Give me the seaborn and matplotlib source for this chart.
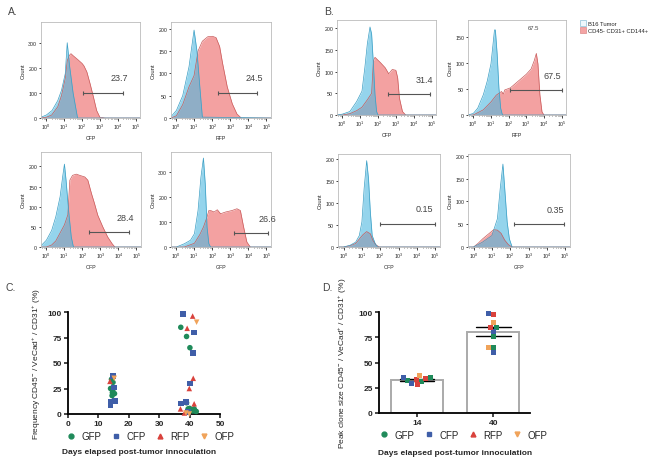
import numpy as np
import pandas as pd
import matplotlib
matplotlib.use("Agg")
import matplotlib.pyplot as plt
from matplotlib.lines import Line2D
from matplotlib.patches import Patch
import seaborn as sns

sns.set_style("white")
plt.rcParams['font.family'] = ['Liberation Sans', 'DejaVu Sans']
plt.rcParams['mathtext.fontset'] = 'custom'
plt.rcParams['mathtext.rm'] = 'Liberation Sans'
plt.rcParams['mathtext.it'] = 'Liberation Sans:italic'
plt.rcParams['mathtext.bf'] = 'Liberation Sans:bold'

# ---------------- Histogram data (x in log10 decades, y = counts) ----------------
a1_bx = [-0.3, 0, 0.32, 0.64, 0.85, 1.06, 1.17, 1.3, 1.5, 1.75, 5.25]
a1_by = [3, 12, 30, 70, 111, 178, 302, 210, 100, 0, 0]
a1_rx = [-0.3, 0, 0.3, 0.64, 0.85, 1.06, 1.17, 1.3, 1.38, 1.5, 1.75, 2.0, 2.1, 2.27, 2.45, 2.64, 2.82, 3.0, 3.3, 5.25]
a1_ry = [0, 3, 12, 45, 90, 160, 230, 252, 258, 250, 235, 219, 210, 185, 138, 84, 30, 3, 0, 0]

a2_bx = [-0.3, 0, 0.35, 0.7, 0.98, 1.14, 1.3, 1.44, 5.25]
a2_by = [3, 17, 50, 115, 197, 150, 70, 2, 0]
a2_rx = [-0.3, 0, 0.35, 0.7, 0.98, 1.2, 1.44, 1.74, 2.0, 2.2, 2.4, 2.56, 2.82, 3.1, 3.36, 3.6, 5.25]
a2_ry = [0, 5, 30, 70, 95, 150, 172, 182, 183, 180, 160, 123, 70, 32, 9, 0, 0]

b1_bx = [-0.3, 0, 0.42, 0.8, 1.1, 1.26, 1.4, 1.55, 1.64, 1.74, 1.83, 1.92, 2.0, 5.25]
b1_by = [0, 2, 8, 31, 55, 109, 164, 203, 187, 117, 47, 8, 0, 0]
b1_rx = [-0.3, 0, 0.42, 0.8, 1.1, 1.4, 1.64, 1.74, 1.83, 2.13, 2.4, 2.6, 2.8, 3.0, 3.1, 3.2, 3.37, 3.55, 5.25]
b1_ry = [0, 0, 3, 10, 18, 35, 50, 125, 133, 121, 109, 95, 105, 103, 86, 39, 8, 0, 0]

b2_bx = [-0.3, 0, 0.25, 0.57, 0.79, 1.0, 1.1, 1.2, 1.25, 1.35, 1.45, 1.55, 1.65, 5.25]
b2_by = [0, 3, 13, 39, 65, 98, 130, 163, 163, 117, 52, 13, 0, 0]
b2_rx = [-0.3, 0, 0.57, 1.0, 1.3, 1.6, 1.7, 1.78, 2.1, 2.55, 3.0, 3.27, 3.45, 3.57, 3.66, 3.77, 3.89, 4.0, 5.25]
b2_ry = [0, 0, 10, 25, 38, 45, 40, 48, 52, 65, 78, 88, 104, 118, 98, 39, 6, 0, 0]

a3_bx = [-0.3, 0, 0.29, 0.52, 0.76, 0.9, 1.0, 1.09, 1.23, 1.38, 1.5, 5.25]
a3_by = [3, 17, 41, 75, 125, 174, 206, 166, 91, 25, 0, 0]
a3_rx = [-0.3, 0, 0.29, 0.52, 0.76, 1.0, 1.19, 1.3, 1.45, 1.66, 1.85, 2.13, 2.3, 2.5, 2.67, 2.85, 3.13, 3.4, 3.65, 3.8, 5.25]
a3_ry = [0, 0, 5, 15, 35, 55, 80, 166, 178, 181, 178, 174, 166, 133, 108, 79, 50, 25, 8, 0, 0]

a4_bx = [-0.3, 0, 0.44, 0.78, 1.0, 1.2, 1.36, 1.5, 1.6, 1.7, 1.8, 1.9, 5.25]
a4_by = [0, 0, 13, 27, 53, 146, 279, 356, 253, 80, 13, 0, 0]
a4_rx = [-0.3, 0.44, 1.0, 1.3, 1.5, 1.7, 1.8, 1.9, 2.09, 2.27, 2.45, 2.73, 3.09, 3.36, 3.55, 3.73, 3.91, 4.1, 5.25]
a4_ry = [0, 0, 15, 50, 80, 120, 146, 146, 140, 149, 133, 140, 146, 153, 146, 80, 20, 0, 0]

b3_bx = [-0.3, 0, 0.36, 0.66, 0.86, 1.0, 1.12, 1.26, 1.36, 1.46, 1.56, 1.72, 1.85, 5.25]
b3_by = [0, 0, 4, 11, 26, 57, 132, 196, 155, 79, 26, 8, 0, 0]
b3_rx = [-0.3, 0, 0.36, 0.66, 0.86, 1.06, 1.26, 1.46, 1.6, 1.76, 1.95, 5.25]
b3_ry = [0, 0, 3, 8, 18, 28, 35, 30, 15, 5, 0, 0]

b4_bx = [-0.3, 0, 0.5, 1.0, 1.3, 1.45, 1.6, 1.7, 1.83, 1.95, 2.1, 5.25]
b4_by = [0, 0, 11, 25, 62, 127, 182, 127, 55, 18, 0, 0]
b4_rx = [-0.3, 0, 0.25, 0.5, 0.86, 1.1, 1.3, 1.5, 1.7, 1.9, 2.1, 5.25]
b4_ry = [0, 0, 8, 18, 30, 38, 37, 30, 15, 5, 0, 0]

hist_channels = ["CFP", "RFP", "CFP", "RFP", "OFP", "GFP", "OFP", "GFP"]
hist_gate_pct = ["23.7", "24.5", "31.4", "67.5", "28.4", "26.6", "0.15", "0.35"]
hist_gates = [(2.05, 4.3), (2.3, 4.5), (2.55, 4.9), (2.1, 5.0), (2.37, 4.6), (3.18, 5.08), (2.0, 4.96), (2.2, 4.95)]
hist_gate_y = [101, 56, 48, 47, 37, 56, 53, 51]
hist_ymax = [385, 215, 219, 182, 236, 380, 211, 204]
hist_yticks = [[0, 100, 200, 300], [0, 50, 100, 150, 200], [0, 50, 100, 150, 200], [0, 50, 100, 150],
               [0, 50, 100, 150, 200], [0, 100, 200, 300], [0, 50, 100, 150, 200], [0, 50, 100, 150, 200]]
legend_labels_top = ["B16 Tumor", "CD45- CD31+ CD144+"]

# ---------------- Panel C data ----------------
c_gfp_day = [14.3, 14.0, 14.6, 15.0, 15.3, 14.8, 14.5, 37.1, 39.0, 40.1, 39.0, 39.5, 40.5, 41.0, 41.5, 42.2, 40.0, 41.8]
c_gfp_val = [34, 25, 21, 25, 20, 31, 18, 85, 76, 65, 11, 5, 4, 3, 5, 2.5, 5.5, 3]
c_cfp_day = [14.0, 14.0, 15.5, 14.8, 15.2, 37.9, 41.5, 41.1, 40.1, 38.8, 37.1, 39.5]
c_cfp_val = [11.5, 9, 13, 37, 26, 98, 80, 60, 30, 12, 10.5, 2]
c_rfp_day = [13.8, 39.2, 41.0, 41.2, 39.9, 41.5, 37.0, 38.3]
c_rfp_val = [32, 84, 96, 35, 25, 10, 5, 1]
c_ofp_day = [15.2, 42.3, 38.8, 39.9]
c_ofp_val = [35, 90, 1, 0]

# ---------------- Panel D data ----------------
d_days = ["14", "40"]
d_gfp = {"14": [35, 32, 31], "40": [85, 76, 65]}
d_cfp = {"14": [35, 29], "40": [99, 81, 60]}
d_rfp = {"14": [34, 33, 28], "40": [98, 85]}
d_ofp = {"14": [37], "40": [90, 65]}

fluors = ["GFP", "CFP", "RFP", "OFP"]
fl_colors = {"GFP": "#1f8a5a", "CFP": "#3f5ea8", "RFP": "#d9423c", "OFP": "#f0a35a"}
fl_markers = {"GFP": "o", "CFP": "s", "RFP": "^", "OFP": "v"}

BLUE = "#4db8e0"
RED = "#ee7a7a"

fig = plt.figure(figsize=(6.5, 4.6), dpi=100)


def rect(l, t, r, b):
    return [l / 650, 1 - b / 460, (r - l) / 650, (b - t) / 460]


hist_rects = [rect(41, 23, 140, 119), rect(171, 23, 271, 119), rect(337, 21, 436, 116), rect(468, 21, 566, 116),
              rect(41, 153, 141, 248), rect(171, 153, 271, 248), rect(338, 155, 440, 248), rect(468, 155, 570, 248)]
hist_data = [(a1_bx, a1_by, a1_rx, a1_ry), (a2_bx, a2_by, a2_rx, a2_ry), (b1_bx, b1_by, b1_rx, b1_ry),
             (b2_bx, b2_by, b2_rx, b2_ry), (a3_bx, a3_by, a3_rx, a3_ry), (a4_bx, a4_by, a4_rx, a4_ry),
             (b3_bx, b3_by, b3_rx, b3_ry), (b4_bx, b4_by, b4_rx, b4_ry)]

for i, r in enumerate(hist_rects):
    ax = fig.add_axes(r)
    bx, by, rx, ry = hist_data[i]
    rxx = 10 ** np.array(rx, dtype=float)
    bxx = 10 ** np.array(bx, dtype=float)
    ax.fill_between(rxx, ry, color=RED, alpha=0.7, linewidth=0)
    ax.plot(rxx, ry, color="#c85a5a", linewidth=0.5)
    ax.fill_between(bxx, by, color=BLUE, alpha=0.6, linewidth=0)
    ax.plot(bxx, by, color="#3a9ec4", linewidth=0.5)
    ax.set_xscale("log")
    ax.set_xlim(10 ** -0.3, 10 ** 5.25)
    ax.set_ylim(0, hist_ymax[i])
    ax.set_xticks([10 ** k for k in range(6)])
    ax.set_yticks(hist_yticks[i])
    ax.tick_params(axis="both", labelsize=3.8, length=1.8, width=0.6, pad=1, direction="out",
                   bottom=True, left=True)
    ax.tick_params(axis="x", which="minor", length=1.0, width=0.4, bottom=True)
    for s in ax.spines.values():
        s.set_color("#bbbbbb")
        s.set_linewidth(0.6)
    ax.set_xlabel(hist_channels[i], fontsize=3.8, labelpad=2.5)
    ax.set_ylabel("Count", fontsize=4.2, labelpad=2)
    g0, g1 = hist_gates[i]
    gy = hist_gate_y[i]
    ax.plot([10 ** g0, 10 ** g1], [gy, gy], color="#555555", linewidth=0.8)
    ax.plot([10 ** g0, 10 ** g1], [gy, gy], linestyle="none", marker="|", markersize=3,
            markeredgewidth=0.8, color="#555555")
    ax.text(10 ** ((g0 + g1) / 2 + 0.9), gy + hist_ymax[i] * 0.11, hist_gate_pct[i], fontsize=6.5,
            color="#444444", ha="center", va="bottom")
    if i == 3:
        ax.text(10 ** 3.4, hist_ymax[i] * 0.92, hist_gate_pct[i], fontsize=4.2, color="#444444",
                ha="center", va="center")

# top-right legend
leg_handles = [Patch(facecolor="#eef8fc", edgecolor="#8cbfd6", linewidth=0.5),
               Patch(facecolor="#f4a4a4", edgecolor="#d88", linewidth=0.5)]
fig.legend(leg_handles, legend_labels_top, loc="upper left", bbox_to_anchor=(576 / 650, 1 - 17 / 460),
           frameon=False, fontsize=4.2, handlelength=1.0, handleheight=1.2, labelspacing=0.2,
           handletextpad=0.4, borderpad=0.2)

# panel letters
for txt, x, y in [("A.", 8, 12), ("B.", 324, 12), ("C.", 5, 288), ("D.", 322, 288)]:
    fig.text(x / 650, 1 - y / 460, txt, fontsize=7.5, color="#444444", va="center", ha="left")

# ---------------- Panel C ----------------
axC = fig.add_axes(rect(68, 313, 220, 415))
c_series = {"GFP": (c_gfp_day, c_gfp_val), "CFP": (c_cfp_day, c_cfp_val),
            "RFP": (c_rfp_day, c_rfp_val), "OFP": (c_ofp_day, c_ofp_val)}
rows = []
for f in fluors:
    for d, v in zip(*c_series[f]):
        rows.append({"day": d, "value": v, "fluor": f})
dfC = pd.DataFrame(rows)
sns.scatterplot(data=dfC, x="day", y="value", hue="fluor", style="fluor", hue_order=fluors,
                style_order=fluors, palette=fl_colors, markers=fl_markers, s=16, linewidth=0,
                ax=axC, legend=False, clip_on=False, zorder=3)
axC.set_xlim(0, 50)
axC.set_ylim(0, 100)
axC.set_xticks([0, 10, 20, 30, 40, 50])
axC.set_yticks([0, 25, 50, 75, 100])
sns.despine(ax=axC)

# ---------------- Panel D ----------------
axD = fig.add_axes(rect(379, 313, 530, 414))
d_series = {"GFP": d_gfp, "CFP": d_cfp, "RFP": d_rfp, "OFP": d_ofp}
rows = []
for f in fluors:
    for d in d_days:
        for v in d_series[f][d]:
            rows.append({"day": d, "value": v, "fluor": f})
dfD = pd.DataFrame(rows)
sns.barplot(data=dfD, x="day", y="value", order=d_days, errorbar="se", capsize=0.45, color="white",
            edgecolor="#aaaaaa", linewidth=1.4, width=0.68, err_kws={"color": "black", "linewidth": 1.0},
            ax=axD, zorder=1)
sns.swarmplot(data=dfD, x="day", y="value", order=d_days, hue="fluor", hue_order=fluors, palette=fl_colors,
              marker="s", size=3.6, linewidth=0, ax=axD, legend=False, zorder=3)
for coll in axD.collections:
    coll.set_clip_on(False)
axD.set_xlim(-0.5, 1.48)
axD.set_ylim(0, 100)
axD.set_yticks([0, 25, 50, 75, 100])
axD.set_xlabel("")
sns.despine(ax=axD)

for ax in (axC, axD):
    for s in ("left", "bottom"):
        ax.spines[s].set_linewidth(1.3)
        ax.spines[s].set_color("black")
    ax.tick_params(axis="both", labelsize=6, length=3, width=1.2, direction="out", pad=1.5,
                   bottom=True, left=True)
    for lab in ax.get_xticklabels() + ax.get_yticklabels():
        lab.set_fontweight("bold")
    ax.set_xlabel("")

axC.set_ylabel(r"Frequency CD45$^{-}$ / VeCad$^{+}$ / CD31$^{+}$ (%)", fontsize=6)
axC.yaxis.set_label_coords((43 - 68) / 152, 0.5)
axD.set_ylabel(r"Peak clone size CD45$^{-}$ / VeCad$^{+}$ / CD31$^{+}$ (%)", fontsize=6)
axD.yaxis.set_label_coords((349 - 379) / 151, 0.5)

handles = [Line2D([], [], linestyle="none", marker=fl_markers[f], color=fl_colors[f], markersize=3.5)
           for f in fluors]
axC.legend(handles, fluors, loc="center", bbox_to_anchor=(0.546, -0.215), ncol=4, frameon=False,
           fontsize=7, handlelength=0.8, handletextpad=0.7, columnspacing=1.05, borderpad=0)
axD.legend(handles, fluors, loc="center", bbox_to_anchor=(0.56, -0.215), ncol=4, frameon=False,
           fontsize=7, handlelength=0.8, handletextpad=0.7, columnspacing=1.05, borderpad=0)

fig.text(139 / 650, 1 - 453 / 460, "Days elapsed post-tumor innoculation", fontsize=6, fontweight="bold",
         ha="center", va="center")
fig.text(455 / 650, 1 - 454 / 460, "Days elapsed post-tumor innoculation", fontsize=6, fontweight="bold",
         ha="center", va="center")

fig.savefig("out.png", dpi=100)
